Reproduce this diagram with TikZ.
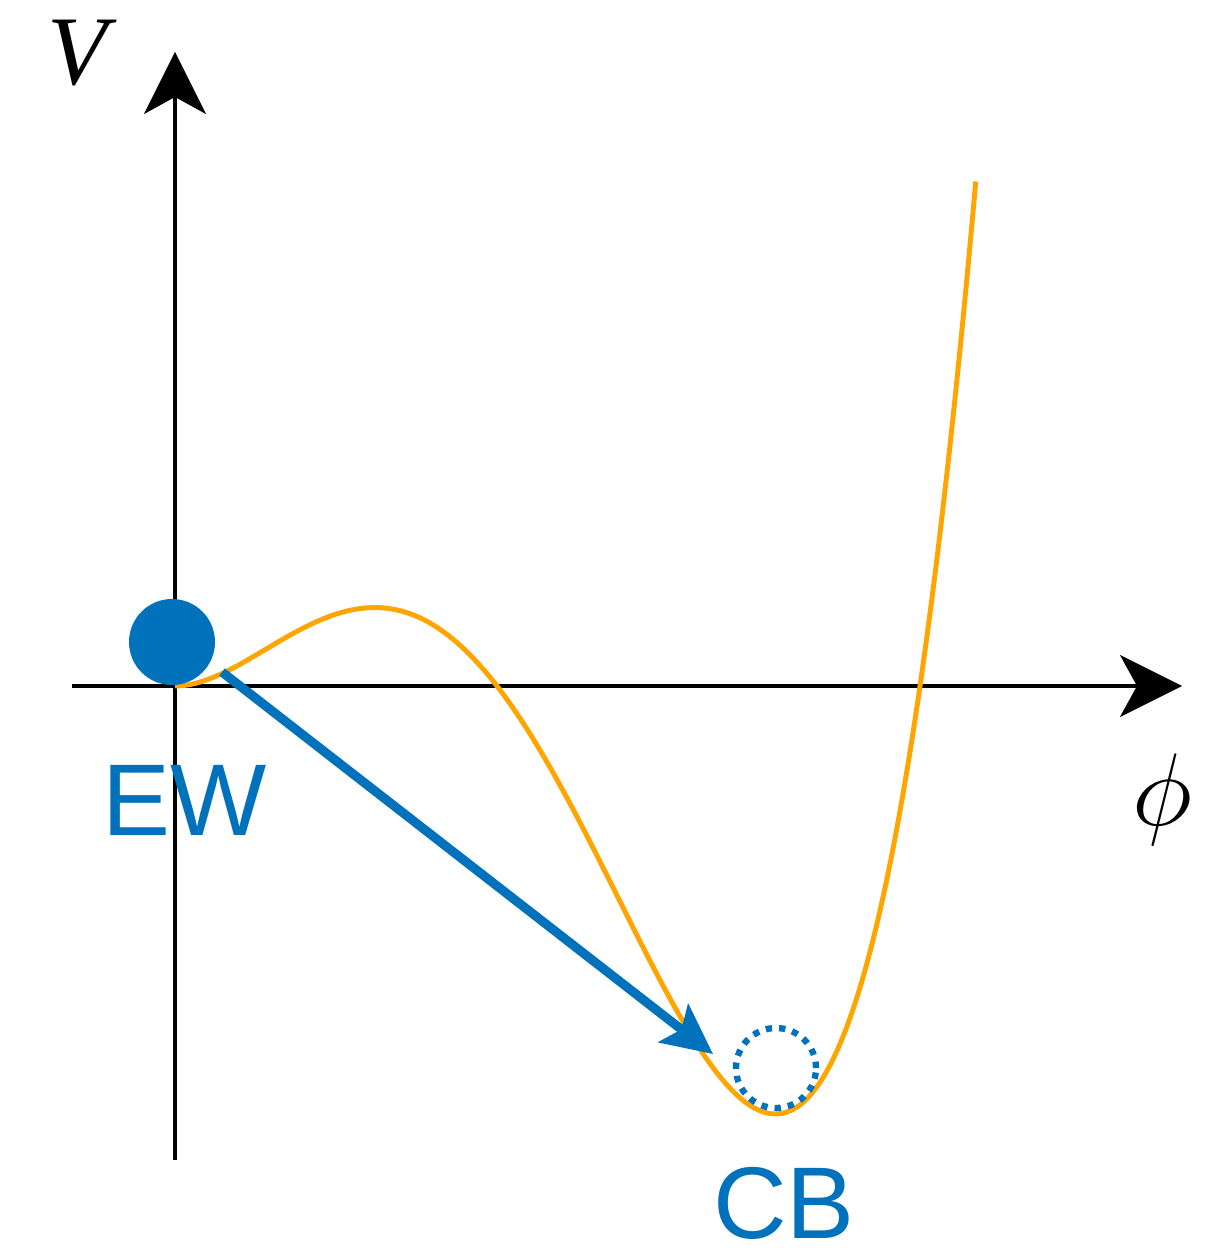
\documentclass[tikz,border=0pt]{standalone}
\usepackage{fontspec}
\setmainfont{Liberation Serif}
\newfontfamily\labelfont{Liberation Sans}
\definecolor{ballblue}{RGB}{0,114,187}
\definecolor{potorange}{RGB}{255,165,0}
\usepackage{tikz}
\usetikzlibrary{arrows.meta}

\begin{document}
\begin{tikzpicture}[
  axis/.style={line width=1.1pt, -{Stealth[length=6.2mm, width=6.2mm, inset=1.7mm]}},
  pot/.style={line width=1.4pt, potorange},
  jump/.style={line width=2.6pt, ballblue, -{Stealth[length=5mm, width=4.8mm, inset=1mm]}},
  vac/.style={font=\labelfont\fontsize{29}{31}\selectfont, text=ballblue, inner sep=0pt, anchor=base},
  axlabel/.style={font=\fontsize{28}{30}\selectfont, inner sep=0pt},
]
\useasboundingbox (-1.75,-5.62) rectangle (10.49,6.86);

% axes
\coordinate (o) at (0,0);
\coordinate (xl) at (-1.03,0);
\coordinate (xr) at (10.07,0);
\coordinate (yb) at (0,-4.74);
\coordinate (yt) at (0,6.34);
\draw[axis] (xl) -- (xr);
\draw[axis] (yb) -- (yt);
\node[axlabel, anchor=base] (vlab) at (-0.93,6.01) {\textit{V}};
\node[axlabel] (philab) at (9.87,-1.14) {\scalebox{1.18}{$\phi$}};

% potential
\draw[pot] plot[domain=0:8.01, samples=200, smooth]
  (\x, {0.0295*\x*\x*(\x-3.22)*(\x-7.45)});

% false and true vacuum
\node[circle, fill=ballblue, minimum size=0.86cm, inner sep=0pt] (ew) at (-0.03,0.44) {};
\node[circle, draw=ballblue, line width=1.8pt, dotted, minimum size=0.8cm, inner sep=0pt] (cb) at (6.01,-3.82) {};
\node[vac] (ewlab) at (0.10,-1.49) {EW};
\node[vac] (cblab) at (6.09,-5.52) {CB};

% tunnelling
\coordinate (js) at (0.47,0.14);
\coordinate (je) at (5.38,-3.68);
\draw[jump] (js) -- (je);
\end{tikzpicture}
\end{document}
